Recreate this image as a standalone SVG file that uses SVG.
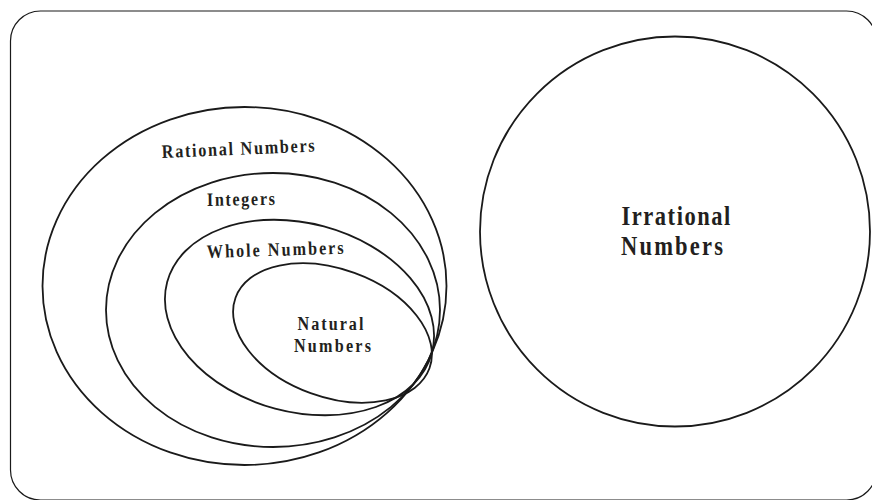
<svg xmlns="http://www.w3.org/2000/svg" width="872" height="500" viewBox="0 0 872 500">
<style>
.set{fill:none;stroke:#1a1a1a;stroke-width:1.8}
.lbl{font-family:"Liberation Serif","Times New Roman",serif;font-weight:bold;fill:#231f20;font-size:19px}
.big{font-size:26.5px}
</style>
<rect x="10.5" y="11" width="866" height="489" rx="30" ry="30" fill="#ffffff" stroke="#1a1a1a" stroke-width="1.2"/>
<g id="rational">
<ellipse class="set" cx="244.5" cy="286" rx="202" ry="179"/>
<text class="lbl" x="0" y="0" textLength="180" lengthAdjust="spacing" transform="translate(162 158) rotate(-2.4) scale(0.85 1)">Rational Numbers</text>
</g>
<g id="integers">
<ellipse class="set" cx="273" cy="310" rx="167" ry="137"/>
<text class="lbl" x="0" y="0" textLength="80" lengthAdjust="spacing" transform="translate(207 206) rotate(-1) scale(0.85 1)">Integers</text>
</g>
<g id="whole">
<ellipse class="set" cx="299.5" cy="317.5" rx="137" ry="94.3" transform="rotate(15 299.5 317.5)"/>
<text class="lbl" x="0" y="0" textLength="161" lengthAdjust="spacing" transform="translate(207 258) rotate(-1.8) scale(0.85 1)">Whole Numbers</text>
</g>
<g id="natural">
<ellipse class="set" cx="332.5" cy="333" rx="103.2" ry="64" transform="rotate(20 332.5 333)"/>
<text class="lbl" x="0" y="0" textLength="77.6" lengthAdjust="spacing" transform="translate(297.5 329.5) scale(0.85 1)">Natural</text>
<text class="lbl" x="0" y="0" textLength="90.6" lengthAdjust="spacing" transform="translate(294 352) scale(0.85 1)">Numbers</text>
</g>
<g id="irrational">
<circle class="set" cx="675" cy="231.5" r="195"/>
<text class="lbl big" x="0" y="0" textLength="128" lengthAdjust="spacing" transform="translate(621.5 224.5) scale(0.85 1)">Irrational</text>
<text class="lbl big" x="0" y="0" textLength="120" lengthAdjust="spacing" transform="translate(621 254.5) scale(0.85 1)">Numbers</text>
</g>
<g id="connectors"/>
</svg>
